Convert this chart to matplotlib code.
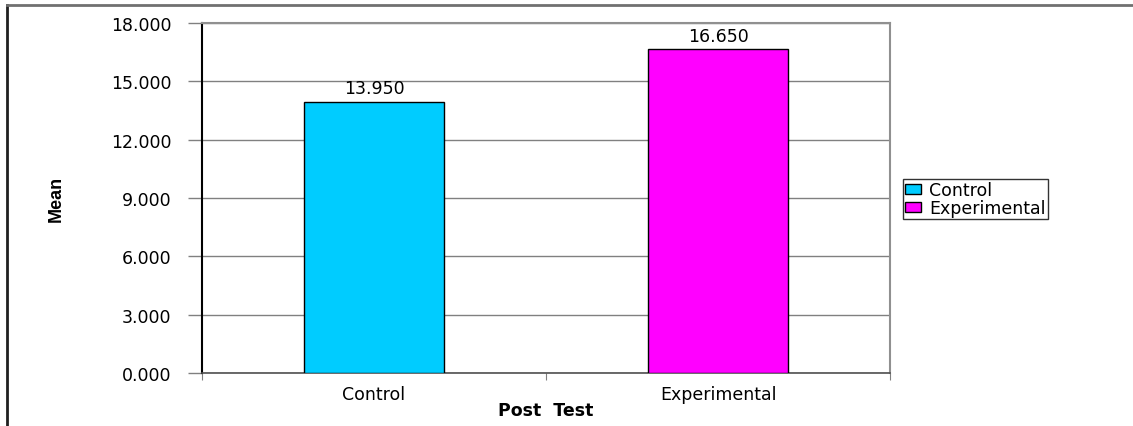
import matplotlib
matplotlib.use("Agg")
import matplotlib.pyplot as plt
from matplotlib.lines import Line2D
from matplotlib.patches import Patch

categories = ["Control", "Experimental"]
means = [13.950, 16.650]
colors = ["#00CCFF", "#FF00FF"]
yticks = [0, 3, 6, 9, 12, 15, 18]

# breite Schrift, damit die gedehnte Optik des Originals besser passt
plt.rcParams["font.family"] = ["DejaVu Sans"]
FS = 12.5

fig = plt.figure(figsize=(11.33, 4.27), dpi=100)
ax = fig.add_axes([202 / 1133, 1 - 374 / 427, 688 / 1133, 350 / 427])

x = list(range(len(categories)))
bars = ax.bar(x, means, width=0.405, color=colors, edgecolor="black", linewidth=1, zorder=3)
for b, v in zip(bars, means):
    ax.text(b.get_x() + b.get_width() / 2, v + 0.22, f"{v:.3f}", ha="center", va="bottom",
            fontsize=FS)

ax.set_xlim(-0.5, 1.5)
ax.set_ylim(0, 18)
ax.set_yticks(yticks)
ax.set_yticklabels([f"{t:.3f}" for t in yticks], fontsize=FS)
ax.yaxis.grid(True, color="#808080", linewidth=1, zorder=0)
ax.tick_params(axis="y", length=10, width=1, color="#808080", pad=12)

ax.set_xticks([-0.5, 0.5, 1.5])
ax.set_xticklabels([])
ax.set_xticks(x, minor=True)
ax.set_xticklabels(categories, minor=True, fontsize=FS)
ax.tick_params(axis="x", which="major", length=5, color="#808080")
ax.tick_params(axis="x", which="minor", length=0, pad=9)

ax.spines["left"].set_color("black")
ax.spines["left"].set_linewidth(1.5)
ax.spines["bottom"].set_color("#505050")
ax.spines["bottom"].set_linewidth(1.2)
for s in ("top", "right"):
    ax.spines[s].set_color("#909090")
    ax.spines[s].set_linewidth(1.5)

ax.set_xlabel("Post  Test", fontsize=FS, fontweight="bold", labelpad=-2)
ax.set_ylabel("Mean", fontsize=13, fontweight="bold",
              family=["Liberation Sans Narrow", "Liberation Sans"], labelpad=33)

handles = [Patch(facecolor=c, edgecolor="black", linewidth=1) for c in colors]
leg = fig.legend(handles, categories, loc="center left", bbox_to_anchor=(903 / 1133, 1 - 200 / 427),
                 fontsize=FS, frameon=True, fancybox=False, edgecolor="black",
                 handlelength=0.9, handleheight=0.55, handletextpad=0.5,
                 borderpad=0.12, labelspacing=0.0, borderaxespad=0)
leg.get_frame().set_linewidth(1)

# Rahmen um das ganze Diagramm
fig.add_artist(Line2D([7 / 1133, 7 / 1133], [0, 1 - 6 / 427], color="#202020", linewidth=2,
                      transform=fig.transFigure))
fig.add_artist(Line2D([7 / 1133, 1], [1 - 6 / 427, 1 - 6 / 427], color="#707070", linewidth=2,
                      transform=fig.transFigure))

fig.savefig("out.png", dpi=100)
